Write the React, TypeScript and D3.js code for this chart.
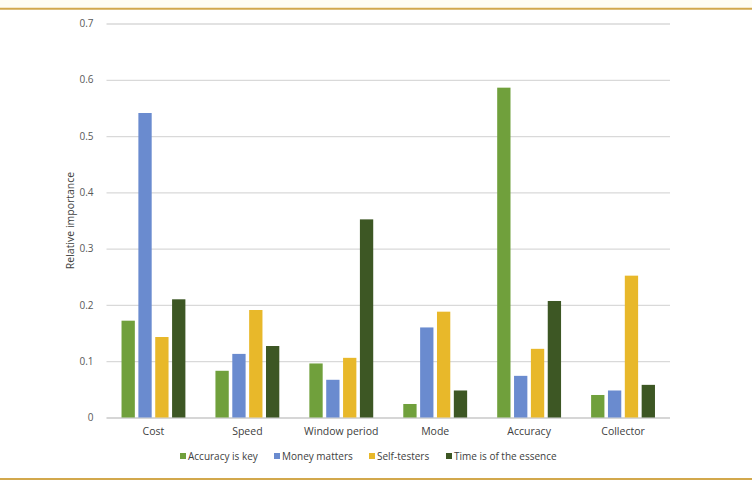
import React, { useRef, useEffect } from 'react';
import * as d3 from 'd3';

const categories = ['Cost', 'Speed', 'Window period', 'Mode', 'Accuracy', 'Collector'];
const seriesNames = ['Accuracy is key', 'Money matters', 'Self-testers', 'Time is of the essence'];
const accuracyIsKey = [0.172, 0.083, 0.096, 0.024, 0.586, 0.040];
const moneyMatters = [0.541, 0.113, 0.067, 0.160, 0.074, 0.048];
const selfTesters = [0.143, 0.191, 0.106, 0.188, 0.122, 0.252];
const timeIsOfTheEssence = [0.210, 0.127, 0.352, 0.048, 0.207, 0.058];
const yTicks = [0, 0.1, 0.2, 0.3, 0.4, 0.5, 0.6, 0.7];
const colors = ['#70a03c', '#6a8bcf', '#e8b82a', '#3d5724'];

const App: React.FC = () => {
  const svgRef = useRef<SVGSVGElement | null>(null);

  useEffect(() => {
    document.body.style.margin = '0';

    const width = 752;
    const height = 491;
    const margin = { top: 23.5, right: 82, bottom: 73.5, left: 106.5 };
    const font = "'Open Sans', 'Liberation Sans', sans-serif";

    const svg = d3.select(svgRef.current)
      .attr('width', width)
      .attr('height', height)
      .style('display', 'block')
      .style('background', '#ffffff');
    svg.selectAll('*').remove();

    const series = [accuracyIsKey, moneyMatters, selfTesters, timeIsOfTheEssence];

    // frame: cream strip and gold rules
    svg.append('rect').attr('x', 0).attr('y', 0).attr('width', width).attr('height', 8)
      .attr('fill', '#fffdf2');
    svg.append('line').attr('x1', 0).attr('x2', width).attr('y1', 8.7).attr('y2', 8.7)
      .attr('stroke', '#d2a84c').attr('stroke-width', 2);
    svg.append('line').attr('x1', 0).attr('x2', width).attr('y1', 479).attr('y2', 479)
      .attr('stroke', '#d2a84c').attr('stroke-width', 2);

    const x0 = d3.scaleBand()
      .domain(categories)
      .range([margin.left, width - margin.right])
      .paddingInner(0.32)
      .paddingOuter(0.16);

    const x1 = d3.scaleBand()
      .domain(seriesNames)
      .range([0, x0.bandwidth()])
      .paddingInner(0.21);

    const y = d3.scaleLinear()
      .domain([0, 0.7])
      .range([height - margin.bottom, margin.top]);

    const yAxis = svg.append('g')
      .attr('transform', `translate(${margin.left},0)`)
      .call(d3.axisLeft(y).tickValues(yTicks)
        .tickFormat(d => (d === 0 ? '0' : d3.format('.1f')(d as number)))
        .tickSize(-(width - margin.left - margin.right))
        .tickPadding(13));
    yAxis.select('.domain').remove();
    yAxis.selectAll('.tick line')
      .attr('stroke', (d: any) => (d === 0 ? '#c8c8c8' : '#d9d9d9'))
      .attr('stroke-width', 1.3);
    yAxis.selectAll('.tick text')
      .attr('fill', '#595959')
      .style('font-family', font)
      .style('font-size', '10px');

    const groups = svg.append('g')
      .selectAll('g')
      .data(categories)
      .enter()
      .append('g')
      .attr('transform', d => `translate(${x0(d)},0)`);

    groups.selectAll('rect')
      .data((d, i) => series.map((s, j) => ({ name: seriesNames[j], value: s[i], color: colors[j] })))
      .enter()
      .append('rect')
      .attr('x', d => x1(d.name) as number)
      .attr('y', d => y(d.value))
      .attr('width', x1.bandwidth())
      .attr('height', d => y(0) - y(d.value))
      .attr('fill', d => d.color);

    const xAxis = svg.append('g')
      .attr('transform', `translate(0,${height - margin.bottom})`)
      .call(d3.axisBottom(x0).tickSize(0).tickPadding(10));
    xAxis.select('.domain').remove();
    xAxis.selectAll('.tick text')
      .attr('fill', '#404040')
      .style('font-family', font)
      .style('font-size', '10.5px');

    svg.append('text')
      .attr('transform', `translate(74,${(margin.top + height - margin.bottom) / 2}) rotate(-90)`)
      .attr('text-anchor', 'middle')
      .attr('fill', '#404040')
      .style('font-family', font)
      .style('font-size', '10.5px')
      .text('Relative importance');

    // legend
    const legendX = [180, 274, 369, 446];
    const legend = svg.append('g').attr('transform', 'translate(0,456)');
    seriesNames.forEach((name, i) => {
      legend.append('rect')
        .attr('x', legendX[i]).attr('y', -3).attr('width', 6).attr('height', 6)
        .attr('fill', colors[i]);
      legend.append('text')
        .attr('x', legendX[i] + 8).attr('y', 3.6)
        .attr('fill', '#404040')
        .style('font-family', font)
        .style('font-size', '10px')
        .text(name);
    });
  }, []);

  return <svg ref={svgRef}></svg>;
};

export default App;
